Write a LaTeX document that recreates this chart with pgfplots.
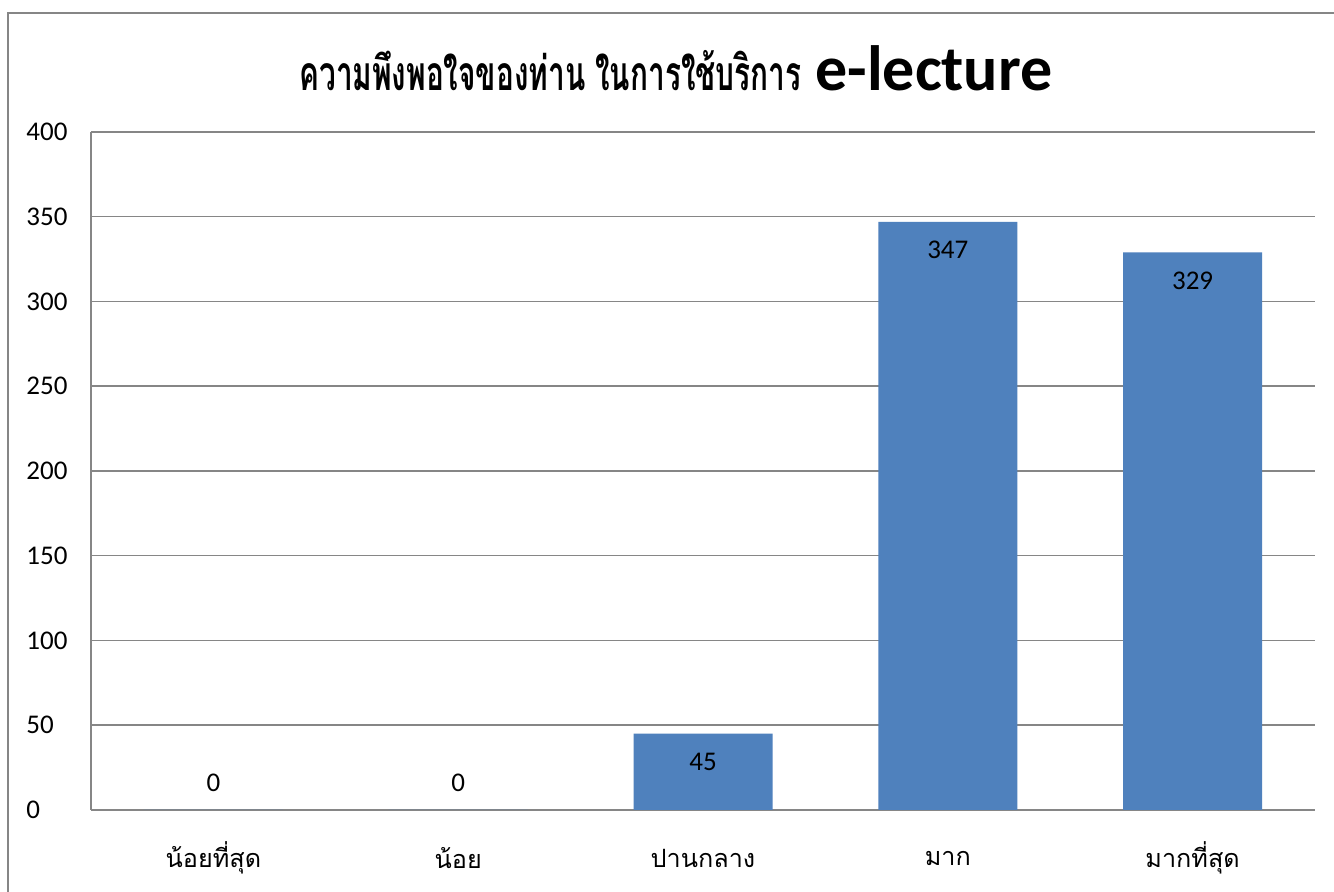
\documentclass[border=0pt]{standalone}
\usepackage{fontspec}
\usepackage{pgfplots}
\pgfplotsset{compat=1.18}
\setmainfont{Carlito}
\newfontfamily\thaifont[Script=Thai]{Loma}
\newfontfamily\thaititle[Script=Thai, FakeStretch=0.62]{Loma}
\definecolor{barblue}{HTML}{4F81BD}
\definecolor{gridgray}{HTML}{868686}
\begin{document}
\begin{tikzpicture}
\useasboundingbox (0,0) rectangle (667pt,446pt);
\fill[white] (0,0) rectangle (667pt,446pt);
\draw[gridgray, line width=1pt] (4pt,0) -- (4pt,439.5pt) -- (667pt,439.5pt);
\node[inner sep=0pt] at (338pt,412pt)
  {{\thaititle\fontsize{24pt}{28pt}\selectfont\bfseries ความพึงพอใจของท่าน ในการใช้บริการ}\hspace{7pt}{\fontsize{32pt}{36pt}\selectfont\bfseries e-lecture}};
\begin{axis}[
  at={(45.5pt,41pt)}, anchor=south west,
  scale only axis, width=612pt, height=339pt,
  xmin=-0.5, xmax=4.5, ymin=0, ymax=400,
  ytick={0,50,...,400},
  xtick={0,1,2,3,4},
  xticklabels={น้อยที่สุด,น้อย,ปานกลาง,มาก,มากที่สุด},
  xticklabel style={font=\thaifont\fontsize{12.6pt}{14pt}\selectfont, anchor=center, yshift=-24pt},
  yticklabel style={font=\fontsize{13.5pt}{15pt}\selectfont, anchor=west, inner sep=0pt, xshift=-32.5pt},
  /pgf/number format/assume math mode=true,
  major tick length=0pt,
  axis lines=left,
  axis line style={-, gridgray, line width=0.75pt},
  ymajorgrids,
  grid style={gridgray, line width=0.75pt},
  ybar, bar width=69.5pt,
  nodes near coords,
  visualization depends on={y \as \rawy},
  every node near coord/.append style={font=\fontsize{13.5pt}{15pt}\selectfont, anchor=center, black, yshift={ifthenelse(\rawy>0,-14,13.5)}},
  clip=false,
]
\addplot[fill=barblue, draw=none] coordinates {(0,0) (1,0) (2,45) (3,347) (4,329)};
\end{axis}
\end{tikzpicture}
\end{document}
